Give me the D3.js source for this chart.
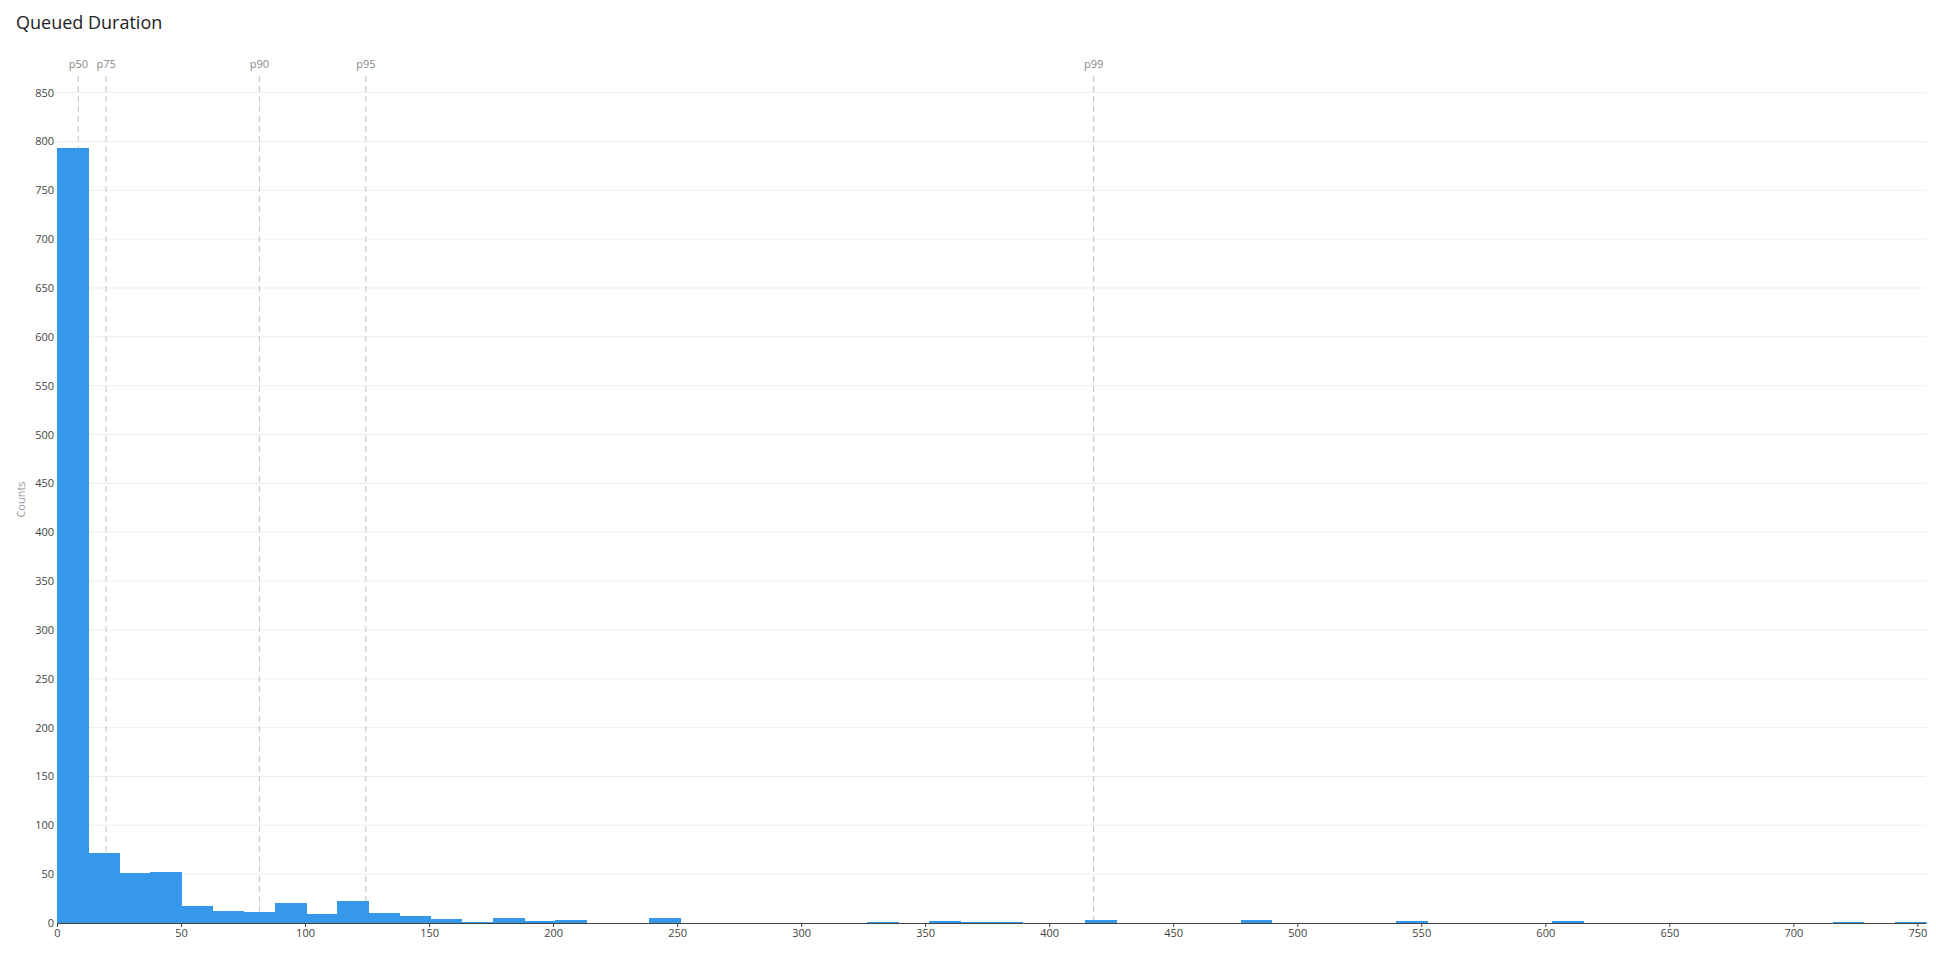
<!DOCTYPE html>
<html>
<head>
<meta charset="utf-8">
<script src="https://cdn.jsdelivr.net/npm/d3@7"></script>
<style>
  body { margin: 0; background: #fff; }
  svg { display: block; font-family: "Open Sans", sans-serif; }
</style>
</head>
<body>
<svg id="chart"></svg>
<script>
// histogram: 60 bins starting at 0
const binSize = 12.558;
const counts = [
  793, 72, 51, 52, 17, 12, 11, 20, 9, 23,
  10, 7, 4, 1, 5, 2, 3, 0, 0, 5,
  0, 0, 0, 0, 0, 0, 1, 0, 2, 1,
  1, 0, 0, 3, 0, 0, 0, 0, 3, 0,
  0, 0, 0, 2, 0, 0, 0, 0, 2, 0,
  0, 0, 0, 0, 0, 0, 0, 1, 0, 1
];
const pctNames = ["p50", "p75", "p90", "p95", "p99"];
const pctValues = [8.6, 19.8, 81.6, 124.5, 417.9];
const xTicks = [0, 50, 100, 150, 200, 250, 300, 350, 400, 450, 500, 550, 600, 650, 700, 750];
const yTicks = [0, 50, 100, 150, 200, 250, 300, 350, 400, 450, 500, 550, 600, 650, 700, 750, 800, 850];

const width = 1936, height = 953;
const margin = { top: 76, right: 10, bottom: 30, left: 57 };

const svg = d3.select("#chart").attr("width", width).attr("height", height);

const x = d3.scaleLinear()
    .domain([0, binSize * counts.length])
    .range([margin.left, width - margin.right]);
const y = d3.scaleLinear()
    .domain([0, 867])
    .range([height - margin.bottom, margin.top]);

// title
svg.append("text")
    .attr("x", 16).attr("y", 29)
    .attr("font-size", 18).attr("fill", "#222")
    .text("Queued Duration");

// gridlines
svg.append("g")
    .selectAll("line")
    .data(yTicks.filter(d => d > 0))
    .join("line")
    .attr("x1", x.range()[0]).attr("x2", x.range()[1])
    .attr("y1", d => y(d)).attr("y2", d => y(d))
    .attr("stroke", "#eee").attr("stroke-width", 1);

// percentile lines (under the bars)
const pct = svg.append("g");
pct.selectAll("line")
    .data(pctValues)
    .join("line")
    .attr("x1", d => x(d)).attr("x2", d => x(d))
    .attr("y1", y.range()[1]).attr("y2", y.range()[0])
    .attr("stroke", "#ccc").attr("stroke-width", 1.2)
    .attr("stroke-dasharray", "6,4");
pct.selectAll("text")
    .data(pctValues)
    .join("text")
    .attr("x", d => x(d)).attr("y", 68)
    .attr("text-anchor", "middle")
    .attr("font-size", 11).attr("fill", "#888")
    .text((d, i) => pctNames[i]);

// bars
svg.append("g")
    .attr("fill", "#3598eb")
    .attr("shape-rendering", "crispEdges")
    .selectAll("rect")
    .data(counts)
    .join("rect")
    .attr("x", (d, i) => x(i * binSize))
    .attr("width", (d, i) => x((i + 1) * binSize) - x(i * binSize) + 0.5)
    .attr("y", d => y(d))
    .attr("height", d => y(0) - y(d));

// x axis
const xAxis = svg.append("g")
    .attr("transform", `translate(0,${y(0)})`)
    .call(d3.axisBottom(x).tickValues(xTicks).tickSize(4).tickPadding(2).tickSizeOuter(0));
xAxis.select(".domain").attr("stroke", "#444");
xAxis.selectAll(".tick line").attr("stroke", "#444");
xAxis.selectAll(".tick text")
    .attr("font-family", "Open Sans").attr("font-size", 11).attr("fill", "#444");

// y axis (labels only)
const yAxis = svg.append("g")
    .attr("transform", `translate(${margin.left},0)`)
    .call(d3.axisLeft(y).tickValues(yTicks).tickSize(0).tickPadding(3));
yAxis.select(".domain").remove();
yAxis.selectAll(".tick text")
    .attr("font-family", "Open Sans").attr("font-size", 11).attr("fill", "#444");

// y axis title
svg.append("text")
    .attr("transform", `translate(25,${(y.range()[0] + y.range()[1]) / 2}) rotate(-90)`)
    .attr("text-anchor", "middle")
    .attr("font-size", 11).attr("fill", "#999")
    .text("Counts");
</script>
</body>
</html>
